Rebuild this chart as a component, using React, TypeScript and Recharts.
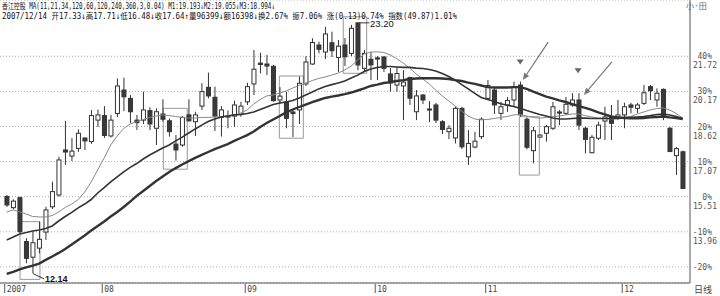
import {
  Bar,
  CartesianGrid,
  ComposedChart,
  Line,
  ReferenceArea,
  ReferenceDot,
  ReferenceLine,
  XAxis,
  YAxis,
} from "recharts";

// daily candles, 2007 (index 0 = first visible day)
const opens = [
  15.52, 15.03, 15.47, 13.53, 12.84, 13.24, 13.95, 15.07, 15.59, 17.58,
  17.31, 17.65, 18.11, 17.95, 18.9, 19.1, 18.2, 19.19, 20.23, 19.86,
  18.9, 18.9, 19.32, 18.54, 19.17, 18.87, 17.84, 17.8, 19.13, 18.83,
  19.52, 20.35, 19.91, 19.02, 19.06, 19.08, 19.17, 19.71, 20.5, 21.42,
  21.38, 21.28, 19.79, 19.71, 19.26, 19.35, 20.5, 21.38, 22.22, 21.91,
  22.32, 21.67, 22.22, 21.85, 23.2, 21.19, 21.59, 21.65, 21.69, 20.94,
  20.45, 20.41, 20.78, 19.27, 20.01, 19.39, 19.57, 18.83, 18.39, 18.11,
  19.42, 17.28, 17.71, 18.17, 19.86, 20.23, 19.2, 19.57, 19.79, 20.45,
  18.94, 17.55, 18.15, 18.32, 18.54, 19.26, 19.2, 19.57, 19.79, 18.54,
  17.46, 18.1, 18.86, 19.03, 19.04, 19.13, 19.57, 19.42, 19.64, 20.38,
  19.79, 20.26, 18.54, 17.33, 17.5,
];
const highs = [
  15.59, 15.4, 15.52, 13.68, 13.97, 14.41, 15.07, 16.18, 17.28, 18.87,
  18.11, 18.49, 18.13, 19.35, 19.37, 19.52, 19.13, 20.74, 20.78, 20.01,
  19.13, 20.16, 19.47, 19.42, 19.82, 18.97, 18.24, 19.08, 19.82, 19.27,
  20.53, 21.0, 20.38, 19.52, 19.32, 19.76, 19.71, 20.55, 22.0, 21.88,
  21.78, 21.34, 20.36, 20.16, 19.35, 20.83, 21.73, 22.52, 22.37, 23.02,
  22.81, 22.44, 22.53, 23.11, 23.2, 22.0, 21.91, 21.73, 21.73, 21.2,
  21.26, 21.11, 20.82, 20.23, 20.05, 19.74, 19.66, 18.9, 18.68, 19.49,
  19.49, 18.46, 18.38, 19.02, 20.67, 20.3, 19.71, 19.92, 20.6, 20.6,
  19.02, 18.6, 18.28, 18.68, 19.71, 19.35, 19.92, 20.09, 20.09, 18.61,
  18.24, 18.83, 19.49, 19.57, 19.79, 19.67, 19.67, 19.66, 20.45, 20.45,
  20.3, 20.3, 18.6, 17.71, 17.55,
];
const lows = [
  15.06, 14.96, 13.91, 12.57, 12.14, 13.01, 13.6, 14.97, 15.52, 16.92,
  17.09, 17.5, 17.58, 17.85, 18.6, 18.11, 18.13, 19.04, 19.3, 18.77,
  18.46, 18.73, 18.46, 17.8, 18.83, 18.17, 17.11, 17.72, 18.83, 18.2,
  19.35, 19.86, 18.42, 18.17, 18.54, 18.61, 19.05, 19.57, 20.01, 20.97,
  20.89, 19.71, 19.61, 18.54, 18.15, 18.73, 20.41, 21.34, 21.85, 21.6,
  21.69, 21.03, 21.29, 21.73, 21.11, 21.04, 20.67, 20.67, 21.03, 20.16,
  20.16, 18.9, 19.57, 18.9, 19.61, 18.81, 18.77, 18.28, 18.06, 17.87,
  17.62, 16.92, 17.65, 18.06, 19.79, 19.17, 18.9, 19.26, 19.49, 19.05,
  17.61, 16.99, 18.11, 17.95, 18.46, 18.68, 19.13, 19.49, 18.46, 17.43,
  17.43, 18.02, 18.02, 18.02, 18.9, 18.54, 19.2, 19.21, 19.57, 19.79,
  19.49, 18.9, 17.5, 16.48, 15.85,
];
const closes = [
  15.15, 15.32, 13.97, 12.79, 13.48, 13.63, 14.93, 15.74, 17.14, 17.49,
  17.53, 18.32, 17.98, 19.1, 19.13, 18.22, 18.9, 20.41, 19.93, 19.27,
  18.79, 19.35, 18.73, 19.27, 18.94, 18.39, 17.58, 19.02, 18.87, 19.13,
  20.16, 19.97, 19.08, 19.35, 19.08, 19.57, 19.52, 20.38, 21.15, 21.36,
  21.29, 19.76, 19.96, 18.98, 19.19, 20.53, 21.47, 22.33, 22.03, 22.71,
  21.97, 22.17, 21.7, 22.96, 21.34, 21.85, 21.34, 21.6, 21.19, 20.54,
  20.96, 20.58, 19.87, 19.97, 19.79, 19.37, 18.9, 18.49, 18.54, 19.42,
  17.72, 17.87, 17.97, 18.94, 20.43, 19.57, 19.49, 19.77, 20.38, 19.13,
  17.7, 18.43, 18.24, 18.61, 19.49, 19.21, 19.6, 19.79, 18.68, 18.05,
  18.14, 18.68, 19.04, 18.76, 19.13, 19.49, 19.47, 19.57, 20.11, 20.2,
  20.09, 19.08, 17.51, 17.64, 15.88,
];

// moving averages as drawn (M1 thin, M2 medium, M3 thick)
const ma1 = [
  14.84, 14.93, 14.84, 14.75, 14.64, 14.62, 14.62, 14.68, 14.84, 15.04,
  15.19, 15.39, 15.72, 16.17, 16.7, 17.23, 17.8, 18.2, 18.53, 18.73,
  18.83, 18.93, 19.02, 19.08, 19.13, 19.1, 19.06, 19.02, 18.99, 18.99,
  19.02, 19.02, 19.04, 19.05, 19.08, 19.13, 19.21, 19.35, 19.61, 19.81,
  19.97, 20.01, 20.1, 20.19, 20.32, 20.43, 20.54, 20.65, 20.74, 20.81,
  20.89, 20.98, 21.12, 21.29, 21.56, 21.82, 21.91, 21.92, 21.89, 21.78,
  21.62, 21.42, 21.2, 20.94, 20.72, 20.5, 20.23, 19.97, 19.75, 19.52,
  19.3, 19.08, 18.95, 18.91, 18.93, 18.97, 19.02, 19.06, 19.13, 19.15,
  19.08, 19.02, 18.99, 19.02, 19.06, 19.08, 19.13, 19.17, 19.17, 19.1,
  19.04, 18.99, 18.97, 18.95, 18.95, 18.99, 19.06, 19.17, 19.26, 19.35,
  19.41, 19.44, 19.35, 19.19, 18.99,
];
const ma2 = [
  13.6, 13.73, 13.87, 13.93, 14.0, 14.04, 14.11, 14.22, 14.44, 14.64,
  14.82, 15.02, 15.19, 15.39, 15.68, 15.92, 16.17, 16.39, 16.61, 16.81,
  16.98, 17.18, 17.36, 17.51, 17.67, 17.8, 17.98, 18.15, 18.33, 18.51,
  18.68, 18.84, 18.95, 19.04, 19.08, 19.13, 19.15, 19.19, 19.26, 19.37,
  19.48, 19.59, 19.66, 19.7, 19.77, 19.88, 20.01, 20.14, 20.28, 20.39,
  20.47, 20.54, 20.63, 20.76, 20.89, 21.05, 21.16, 21.23, 21.27, 21.27,
  21.25, 21.23, 21.23, 21.2, 21.18, 21.14, 21.07, 20.96, 20.83, 20.67,
  20.47, 20.28, 20.08, 19.9, 19.81, 19.72, 19.62, 19.56, 19.5, 19.42,
  19.33, 19.24, 19.15, 19.08, 18.99, 18.95, 18.95, 18.97, 18.99, 18.99,
  18.97, 18.97, 18.97, 18.97, 18.99, 19.02, 19.02, 19.04, 19.06, 19.1,
  19.15, 19.17, 19.13, 19.06, 18.97,
];
const ma3 = [
  12.1, 12.19, 12.3, 12.39, 12.47, 12.56, 12.72, 12.87, 13.03, 13.2,
  13.4, 13.6, 13.8, 14.02, 14.22, 14.42, 14.64, 14.84, 15.06, 15.3,
  15.55, 15.77, 15.99, 16.21, 16.41, 16.61, 16.78, 16.94, 17.09, 17.23,
  17.36, 17.49, 17.62, 17.73, 17.84, 17.98, 18.11, 18.24, 18.4, 18.6,
  18.77, 18.93, 19.08, 19.24, 19.37, 19.48, 19.59, 19.7, 19.79, 19.88,
  19.94, 19.99, 20.05, 20.12, 20.21, 20.3, 20.41, 20.47, 20.54, 20.58,
  20.63, 20.67, 20.72, 20.74, 20.75, 20.75, 20.75, 20.74, 20.72, 20.67,
  20.63, 20.56, 20.5, 20.43, 20.36, 20.34, 20.34, 20.34, 20.36, 20.36,
  20.28, 20.16, 20.05, 19.94, 19.86, 19.77, 19.7, 19.61, 19.52, 19.44,
  19.35, 19.24, 19.15, 19.06, 19.02, 18.99, 18.98, 18.98, 18.99, 19.02,
  19.04, 19.06, 19.02, 18.99, 18.95,
];

// axes
const basePrice = 15.515;
const pctTicks = [-20, -10, 0, 10, 20, 30, 40];
const priceTickLabels = ["", "13.96", "15.51", "17.07", "18.62", "20.17", "21.72"];
const monthStarts = [0, 15, 37, 57, 74, 95];
const monthLabels = ["2007", "08", "09", "10", "11", "12"];

// hand-drawn annotations (index, price)
const boxes = [
  { x1: 2.05, x2: 5.12, y1: 11.86, y2: 14.41 },
  { x1: 24.09, x2: 27.78, y1: 16.73, y2: 19.42 },
  { x1: 41.94, x2: 45.63, y1: 18.1, y2: 20.85 },
  { x1: 51.78, x2: 55.38, y1: 20.97, y2: 23.47 },
  { x1: 78.86, x2: 81.94, y1: 16.47, y2: 19.05 },
];
const arrows = [
  { from: [83.3, 22.35], to: [79.4, 20.67] },
  { from: [93.1, 21.47], to: [88.8, 20.01] },
];
const markers = [
  [79.0, 21.47],
  [87.9, 21.08],
];

const rows = opens.map((o, i) => ({
  i,
  o,
  h: highs[i],
  l: lows[i],
  c: closes[i],
  range: [lows[i], highs[i]],
  m1: ma1[i],
  m2: ma2[i],
  m3: ma3[i],
}));

const yTicks = pctTicks.map((p) => +(basePrice * (1 + p / 100)).toFixed(4));
const mono = '"DejaVu Sans Mono", "Noto Sans CJK SC", monospace';

function Candle(props: any) {
  const { x, y, width, height, payload } = props;
  const top = Math.min(y, y + height);
  const bottom = Math.max(y, y + height);
  const { o, h, l, c } = payload;
  const k = (bottom - top) / (h - l || 1);
  const yo = top + (h - o) * k;
  const yc = top + (h - c) * k;
  const cx = x + width / 2;
  const up = c >= o;
  const bt = Math.min(yo, yc);
  const bh = Math.max(Math.abs(yo - yc), 1);
  return (
    <g>
      <line x1={cx} x2={cx} y1={top} y2={bottom} stroke="#333" strokeWidth={1} />
      <rect
        x={x + 0.5}
        y={bt}
        width={width - 1}
        height={bh}
        fill={up ? "#fff" : "#3a3a3a"}
        stroke="#333"
        strokeWidth={1}
      />
    </g>
  );
}

function PriceTick(props: any) {
  const { y, index } = props;
  return (
    <g fontFamily={mono} fontSize={8} fill="#555" textAnchor="end">
      <text x={712} y={y + 3}>
        {pctTicks[index]}%
      </text>
      {priceTickLabels[index] && (
        <text x={717} y={y + 12}>
          {priceTickLabels[index]}
        </text>
      )}
    </g>
  );
}

function MonthTick(props: any) {
  const { x, index } = props;
  return (
    <g>
      <line x1={x - 2} x2={x - 2} y1={284} y2={293} stroke="#555" />
      <text x={x} y={292} fontFamily={mono} fontSize={8} fill="#444">
        {monthLabels[index]}
      </text>
    </g>
  );
}

function Arrow(props: any) {
  const { x1, y1, x2, y2 } = props;
  const dx = x2 - x1;
  const dy = y2 - y1;
  const len = Math.hypot(dx, dy) || 1;
  const ux = dx / len;
  const uy = dy / len;
  const bx = x2 - ux * 7;
  const by = y2 - uy * 7;
  return (
    <g>
      <line x1={x1} y1={y1} x2={bx} y2={by} stroke="#777" strokeWidth={1.2} />
      <path
        d={`M${x2},${y2} L${bx - uy * 3},${by + ux * 3} L${bx + uy * 3},${by - ux * 3} Z`}
        fill="#777"
      />
    </g>
  );
}

export default function App() {
  return (
    <div style={{ position: "absolute", left: 0, top: 0, width: 720, height: 296, background: "#fff" }}>
      <ComposedChart width={720} height={296} data={rows} margin={{ top: 0, right: 0, bottom: 0, left: 0 }}>
        <CartesianGrid vertical={false} stroke="#aaa" strokeDasharray="1 2" />
        <XAxis
          dataKey="i"
          type="number"
          domain={[-1.03, 105.12]}
          allowDataOverflow
          ticks={monthStarts}
          interval={0}
          height={13}
          tickLine={false}
          axisLine={{ stroke: "#555" }}
          tick={<MonthTick />}
        />
        <YAxis
          orientation="right"
          width={30}
          domain={[11.7, 24.21]}
          allowDataOverflow
          ticks={yTicks}
          interval={0}
          tickLine={false}
          axisLine={{ stroke: "#555" }}
          tick={<PriceTick />}
        />
        {boxes.map((b, k) => (
          <ReferenceArea
            key={`b${k}`}
            x1={b.x1}
            x2={b.x2}
            y1={b.y1}
            y2={b.y2}
            fill="none"
            stroke="#999"
            strokeWidth={1}
            ifOverflow="visible"
          />
        ))}
        <Bar dataKey="range" barSize={5} shape={<Candle />} isAnimationActive={false} />
        <Line dataKey="m1" type="linear" stroke="#888" strokeWidth={1} dot={false} activeDot={false} isAnimationActive={false} />
        <Line dataKey="m2" type="linear" stroke="#333" strokeWidth={1.6} dot={false} activeDot={false} isAnimationActive={false} />
        <Line dataKey="m3" type="linear" stroke="#333" strokeWidth={2.4} dot={false} activeDot={false} isAnimationActive={false} />
        {arrows.map((a, k) => (
          <ReferenceLine
            key={`a${k}`}
            segment={[
              { x: a.from[0], y: a.from[1] },
              { x: a.to[0], y: a.to[1] },
            ]}
            ifOverflow="visible"
            shape={(p: any) => <Arrow {...p} />}
          />
        ))}
        {markers.map((m, k) => (
          <ReferenceDot
            key={`m${k}`}
            x={m[0]}
            y={m[1]}
            ifOverflow="visible"
            shape={(p: any) => (
              <path d={`M${p.cx - 3.5},${p.cy - 2.5} L${p.cx + 3.5},${p.cy - 2.5} L${p.cx},${p.cy + 2.5} Z`} fill="#666" />
            )}
          />
        ))}
        <ReferenceLine
          segment={[
            { x: 54.3, y: 23.2 },
            { x: 55.8, y: 23.2 },
          ]}
          stroke="#333"
          ifOverflow="visible"
        />
        <ReferenceDot
          x={55.9}
          y={23.2}
          ifOverflow="visible"
          shape={(p: any) => (
            <text x={p.cx} y={p.cy + 4.5} fontFamily="Liberation Sans, Arial, sans-serif" fontSize={9.5} fill="#111">
              23.20
            </text>
          )}
        />
        <ReferenceLine
          segment={[
            { x: 4.0, y: 12.12 },
            { x: 5.75, y: 11.88 },
          ]}
          stroke="#333"
          ifOverflow="visible"
        />
        <ReferenceDot
          x={5.9}
          y={11.88}
          ifOverflow="visible"
          shape={(p: any) => (
            <text x={p.cx} y={p.cy + 3} fontFamily="Liberation Sans, Arial, sans-serif" fontSize={9} fontWeight="bold" fill="#111">
              12.14
            </text>
          )}
        />
      </ComposedChart>
      <svg width={720} height={296} style={{ position: "absolute", left: 0, top: 0, pointerEvents: "none" }}>
        <text x={2} y={9} fontFamily={mono} fontSize={8} fill="#111" textLength={273} lengthAdjust="spacingAndGlyphs">
          香江控股 MA(11,21,34,120,60,120,240,360,3,0.04) M1:19.193↓M2:19.055↓M3:18.994↓
        </text>
        <text x={2} y={18.5} fontFamily={mono} fontSize={8.5} fill="#111" textLength={455} lengthAdjust="spacingAndGlyphs">
          2007/12/14 开17.33↓高17.71↓低16.48↓收17.64↑量96399↓额16398↓换2.67% 振7.06% 涨(0.13)0.74% 指数(49.87)1.01%
        </text>
        <text x={686} y={9} fontFamily={mono} fontSize={8} fill="#666">
          小·田
        </text>
        <text x={694} y={293} fontFamily={mono} fontSize={9} fill="#444">
          日线
        </text>
      </svg>
    </div>
  );
}
